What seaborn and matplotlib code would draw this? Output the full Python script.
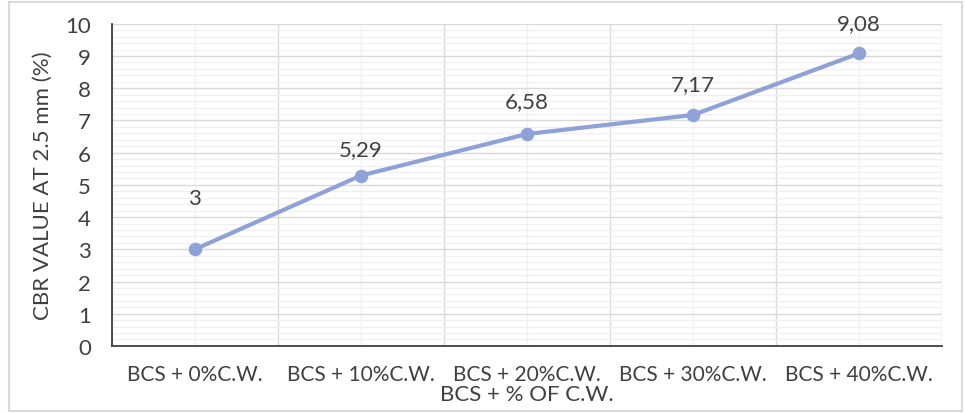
"""
CBR value at 2.5 mm for black cotton soil with added C.W.
Excel-style line chart redone with seaborn.
"""

import numpy as np
import seaborn as sns
import matplotlib
matplotlib.use('Agg')
import matplotlib.pyplot as plt
from matplotlib.ticker import MultipleLocator

###
#Data

CATEGORIES = ['BCS + 0%C.W.', 'BCS + 10%C.W.', 'BCS + 20%C.W.',
              'BCS + 30%C.W.', 'BCS + 40%C.W.']
CBR_VALUES = [3.0, 5.29, 6.58, 7.17, 9.08]
VALUE_LABELS = ['3', '5,29', '6,58', '7,17', '9,08']

#Label offsets above the points (points)
LABEL_OFFSETS = [37, 19, 24, 22, 22]

LINE_COLOR = '#8FA2D8'
TEXT_COLOR = '#404040'

sns.set_style('white')
plt.rcParams['font.family'] = ['Lato', 'DejaVu Sans']


def main():
    fig = plt.figure(figsize=(9.65, 4.14), dpi=100)
    ax = fig.add_axes([0.116, 0.162, 0.860, 0.778])

    xpos = np.arange(len(CATEGORIES))
    sns.lineplot(x=xpos, y=CBR_VALUES, ax=ax, color=LINE_COLOR,
                 linewidth=3, marker='o', markersize=9,
                 markeredgecolor=LINE_COLOR, zorder=3)

    for x, y, lab, off in zip(xpos, CBR_VALUES, VALUE_LABELS, LABEL_OFFSETS):
        ax.annotate(lab, (x, y), xytext=(0, off), textcoords='offset points',
                    ha='center', va='center', fontsize=16, color=TEXT_COLOR)

    #Axes limits and ticks
    ax.set_xlim(-0.5, len(CATEGORIES) - 0.5)
    ax.set_ylim(0, 10)
    ax.set_xticks(xpos)
    ax.set_xticklabels(CATEGORIES)
    ax.xaxis.set_minor_locator(MultipleLocator(1, offset=0.5))
    ax.yaxis.set_major_locator(MultipleLocator(1))
    ax.yaxis.set_minor_locator(MultipleLocator(0.2))

    #Gridlines
    ax.grid(which='major', axis='y', color='#D9D9D9', linewidth=1)
    ax.grid(which='minor', axis='y', color='#F0F0F0', linewidth=1)
    ax.grid(which='minor', axis='x', color='#D9D9D9', linewidth=1)
    ax.grid(which='major', axis='x', color='#F0F0F0', linewidth=1)
    ax.set_axisbelow(True)

    ax.tick_params(axis='y', which='both', length=0, labelsize=16,
                   labelcolor=TEXT_COLOR, pad=15)
    ax.tick_params(axis='x', which='both', length=0, labelsize=15,
                   labelcolor=TEXT_COLOR, pad=13)

    for side in ['top', 'right']:
        ax.spines[side].set_visible(False)
    ax.spines['left'].set_color('#404040')
    ax.spines['bottom'].set_color('#404040')
    ax.spines['left'].set_linewidth(1.3)
    ax.spines['bottom'].set_linewidth(1.3)

    ax.set_ylabel('CBR VALUE AT 2.5 mm (%)', fontsize=16, color=TEXT_COLOR,
                  labelpad=9)
    ax.set_xlabel('BCS + % OF C.W.', fontsize=16, color=TEXT_COLOR,
                  labelpad=0)

    #Chart border
    border = plt.Rectangle((0.009, 0.006), 0.988, 0.986, transform=fig.transFigure,
                           fill=False, edgecolor='#D9D9D9', linewidth=1.5)
    fig.patches.append(border)

    fig.savefig('out.png', dpi=100)
    return 0


if __name__ == '__main__':
    main()
